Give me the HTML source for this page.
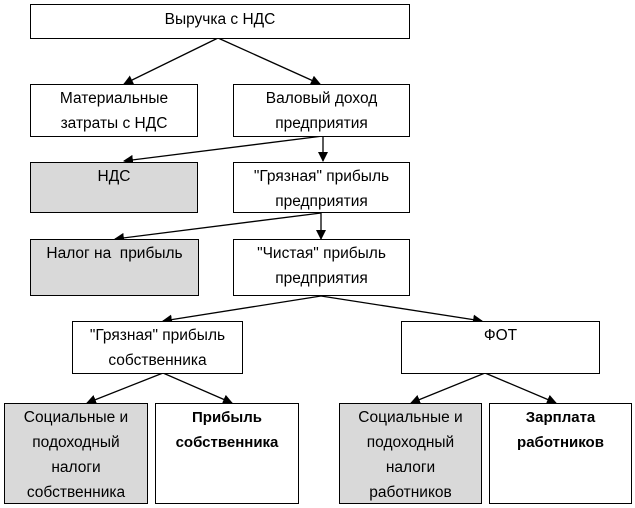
<!DOCTYPE html>
<html><head><meta charset="utf-8"><style>
body{margin:0;width:635px;height:508px;background:#fff;position:relative;overflow:hidden;font-family:"Liberation Sans","DejaVu Sans",sans-serif;}
.b{position:absolute;box-sizing:border-box;border:1px solid #000;background:#fff;text-align:center;font-size:15.5px;line-height:25px;padding-top:1px;color:#000;white-space:nowrap}
.g{background:#d9d9d9}
.bold{font-weight:bold;font-size:15px}
svg{position:absolute;left:0;top:0}
</style></head><body>
<svg width="635" height="508">
<defs><marker id="a" markerWidth="10" markerHeight="10" refX="9" refY="5" orient="auto" markerUnits="userSpaceOnUse"><path d="M0,0 L10,5 L0,10 z" fill="#000"/></marker></defs>
<g stroke="#000" stroke-width="1.3" fill="none" marker-end="url(#a)">
<line x1="218" y1="38" x2="124" y2="84"/>
<line x1="218" y1="38" x2="320" y2="84"/>
<line x1="323" y1="136" x2="124" y2="161"/>
<line x1="323" y1="136" x2="323" y2="161"/>
<line x1="321" y1="213" x2="115" y2="239"/>
<line x1="321" y1="213" x2="321" y2="239"/>
<line x1="321" y1="296" x2="163" y2="321"/>
<line x1="321" y1="296" x2="482" y2="321"/>
<line x1="163" y1="373" x2="87" y2="403"/>
<line x1="163" y1="373" x2="232" y2="403"/>
<line x1="485" y1="373" x2="411" y2="403"/>
<line x1="485" y1="373" x2="556" y2="403"/>
</g></svg>
<div class="b" style="left:30px;top:4px;width:380px;height:35px;padding-top:2px">Выручка с НДС</div>
<div class="b" style="left:30px;top:84px;width:168px;height:53px">Материальные<br>затраты с НДС</div>
<div class="b" style="left:233px;top:84px;width:177px;height:53px">Валовый доход<br>предприятия</div>
<div class="b g" style="left:30px;top:162px;width:168px;height:51px">НДС</div>
<div class="b" style="left:233px;top:162px;width:177px;height:51px">"Грязная" прибыль<br>предприятия</div>
<div class="b g" style="left:30px;top:239px;width:169px;height:57px">Налог на&nbsp; прибыль</div>
<div class="b" style="left:233px;top:239px;width:177px;height:57px">"Чистая" прибыль<br>предприятия</div>
<div class="b" style="left:72px;top:321px;width:171px;height:53px">"Грязная" прибыль<br>собственника</div>
<div class="b" style="left:401px;top:321px;width:199px;height:53px">ФОТ</div>
<div class="b g" style="left:4px;top:403px;width:144px;height:101px">Социальные и<br>подоходный<br>налоги<br>собственника</div>
<div class="b bold" style="left:155px;top:403px;width:144px;height:101px">Прибыль<br>собственника</div>
<div class="b g" style="left:339px;top:403px;width:143px;height:101px">Социальные и<br>подоходный<br>налоги<br>работников</div>
<div class="b bold" style="left:489px;top:403px;width:143px;height:101px">Зарплата<br>работников</div>
</body></html>
